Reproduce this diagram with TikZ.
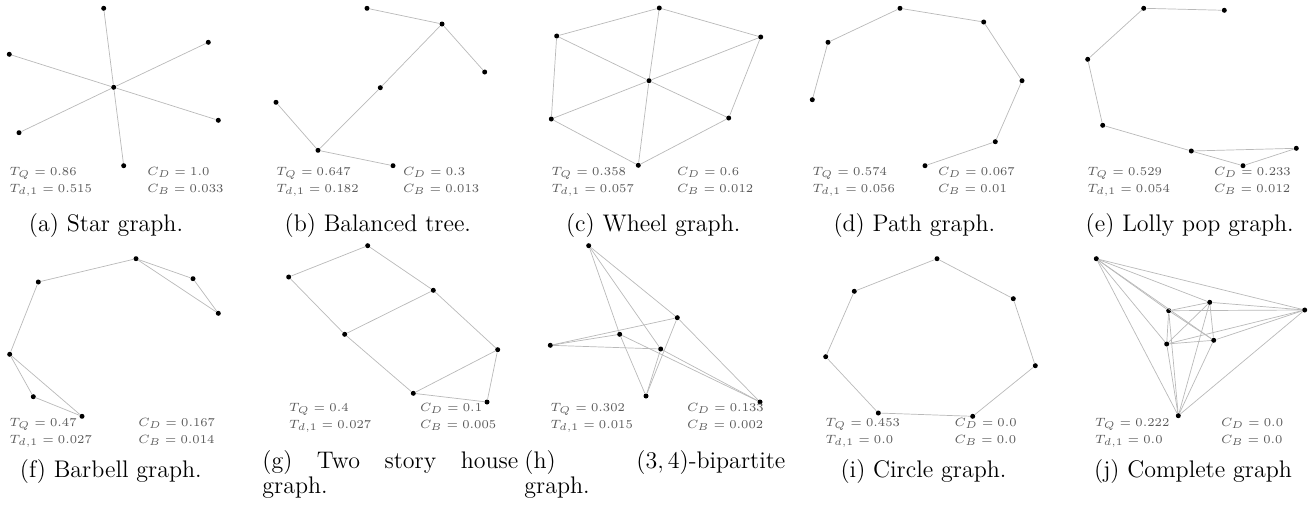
\documentclass[tikz,border=0pt]{standalone}
\usepackage{amsmath}
\begin{document}
\begin{tikzpicture}[x=0.5pt, y=-0.5pt, vtx/.style={circle, fill=black, inner sep=0pt, minimum size=2.5pt}, edge/.style={gray!55, line width=0.35pt}, stat/.style={anchor=base west, inner sep=0pt, text=black!65, font=\fontsize{6.2}{7.4}\selectfont}, capt/.style={inner sep=0pt, font=\fontsize{12}{14}\selectfont}]
  \useasboundingbox (0,0) rectangle (1312,504);
  \node[vtx] (a0) at (113.7,87.3) {};
  \foreach \n/\x/\y in {1/103.7/8.3, 2/9.3/54.3, 3/208.3/42.3, 4/218.3/120.3, 5/19/132.7, 6/123.7/165.7} {\node[vtx] (a\n) at (\x,\y) {}; \draw[edge] (a0) -- (a\n);}
  \foreach \n/\x/\y in {1/367/8.3, 2/442/24, 3/484.7/72, 4/380.3/87.7, 5/276/102.3, 6/318/150.3, 7/393/165.7} \node[vtx] (b\n) at (\x,\y) {};
  \foreach \u/\v in {1/2, 2/3, 2/4, 4/6, 5/6, 6/7} \draw[edge] (b\u) -- (b\v);
  \node[vtx] (c0) at (649,80.7) {};
  \foreach \n/\x/\y in {1/659.3/8, 2/556.7/36, 3/551.3/119, 4/638.3/165.3, 5/728.7/118, 6/760.7/37} {\node[vtx] (c\n) at (\x,\y) {}; \draw[edge] (c0) -- (c\n);}
  \foreach \u/\v in {1/2, 2/3, 3/4, 4/5, 5/6, 6/1} \draw[edge] (c\u) -- (c\v);
  \foreach \n/\x/\y in {1/812.3/99.7, 2/828/42.3, 3/900/8.3, 4/983.7/22, 5/1022/80.7, 6/995.3/141.7, 7/925/165.7} \node[vtx] (d\n) at (\x,\y) {};
  \foreach \u/\v in {1/2, 2/3, 3/4, 4/5, 5/6, 6/7} \draw[edge] (d\u) -- (d\v);
  \foreach \n/\x/\y in {1/1224.3/10.3, 2/1143.7/8.3, 3/1087.7/59.3, 4/1102.7/125.3, 5/1191.3/151, 6/1296.3/148.3, 7/1243/165.7} \node[vtx] (e\n) at (\x,\y) {};
  \foreach \u/\v in {1/2, 2/3, 3/4, 4/5, 5/6, 6/7, 7/5} \draw[edge] (e\u) -- (e\v);
  \foreach \n/\x/\y in {1/136/258.7, 2/38.3/282, 3/193/278.7, 4/218.3/313.3, 5/9.7/354.3, 6/33.3/396.7, 7/82/416.3} \node[vtx] (f\n) at (\x,\y) {};
  \foreach \u/\v in {1/2, 1/3, 1/4, 3/4, 2/5, 5/6, 5/7, 6/7} \draw[edge] (f\u) -- (f\v);
  \foreach \n/\x/\y in {1/367.7/245.7, 2/288.7/277, 3/433.3/290.3, 4/344.7/334.3, 5/497.7/349.7, 6/413.3/393.3, 7/487/402} \node[vtx] (g\n) at (\x,\y) {};
  \foreach \u/\v in {1/2, 1/3, 2/4, 3/4, 3/5, 4/6, 5/6, 5/7, 6/7} \draw[edge] (g\u) -- (g\v);
  \foreach \n/\x/\y in {1/588.7/245.7, 2/677.3/317.7, 3/619.7/334.3, 4/550.3/345.3, 5/660.7/349, 6/646/396, 7/760/402} \node[vtx] (h\n) at (\x,\y) {};
  \foreach \u in {2,3,5} {\foreach \v in {1,4,6,7} \draw[edge] (h\u) -- (h\v);}
  \foreach \n/\x/\y in {1/937/258.7, 2/854.3/291.3, 3/1013.3/298.7, 4/825.7/356.7, 5/1035.3/365.7, 6/878.3/413, 7/972.7/416.3} \node[vtx] (i\n) at (\x,\y) {};
  \foreach \u/\v in {1/3, 3/5, 5/7, 7/6, 6/4, 4/2, 2/1} \draw[edge] (i\u) -- (i\v);
  \foreach \n/\x/\y in {1/1096.3/258.7, 2/1209.7/302.3, 3/1168.7/310.7, 4/1304.7/310, 5/1166.7/344, 6/1213.7/340.3, 7/1178.3/415.7} \node[vtx] (j\n) at (\x,\y) {};
  \foreach \u in {1,...,6} {\pgfmathtruncatemacro{\w}{\u+1} \foreach \v in {\w,...,7} \draw[edge] (j\u) -- (j\v);}
  \foreach \p/\xl/\xr/\yb/\tq/\td/\cd/\cb in {a/9.3/147/175/0.86/0.515/1.0/0.033, b/276/402.7/175/0.647/0.182/0.3/0.013, c/551.3/676.7/175/0.358/0.057/0.6/0.012, d/812.3/937.7/175/0.574/0.056/0.067/0.01, e/1087.3/1213.7/175/0.529/0.054/0.233/0.012, f/9.3/138/426/0.47/0.027/0.167/0.014, g/288.7/419.7/411/0.4/0.027/0.1/0.005, h/550.3/686.7/411/0.302/0.015/0.133/0.002, i/825.3/954.3/426/0.453/0.0/0.0/0.0, j/1094.7/1220.7/426/0.222/0.0/0.0/0.0} {
    \node[stat] (tq\p) at (\xl,\yb) {$T_Q = \tq$};
    \node[stat] (td\p) at (\xl,\yb+17) {$T_{d,1} = \td$};
    \node[stat] (cd\p) at (\xr,\yb) {$C_D = \cd$};
    \node[stat] (cb\p) at (\xr,\yb+17) {$C_B = \cb$};
  }
  \node[capt, anchor=base] (capa) at (106,231.7) {(a) Star graph.};
  \node[capt, anchor=base] (capb) at (377.8,231.7) {(b) Balanced tree.};
  \node[capt, anchor=base] (capc) at (653.2,231.7) {(c) Wheel graph.};
  \node[capt, anchor=base] (capd) at (914.3,231.7) {(d) Path graph.};
  \node[capt, anchor=base] (cape) at (1189.7,231.7) {(e) Lolly pop graph.};
  \node[capt, anchor=base] (capf) at (110.8,477.5) {(f) Barbell graph.};
  \node[capt, anchor=base west] (capg) at (262,468.7) {\makebox[128pt][s]{(g) Two story house}};
  \node[capt, anchor=base west] (capgg) at (262,493.7) {graph.};
  \node[capt, anchor=base west] (caph) at (524,468.7) {\makebox[130.5pt][s]{(h) $(3,4)$-bipartite}};
  \node[capt, anchor=base west] (caphh) at (524,493.7) {graph.};
  \node[capt, anchor=base] (capi) at (923.5,477.5) {(i) Circle graph.};
  \node[capt, anchor=base] (capj) at (1193,477.5) {(j) Complete graph};
\end{tikzpicture}
\end{document}
